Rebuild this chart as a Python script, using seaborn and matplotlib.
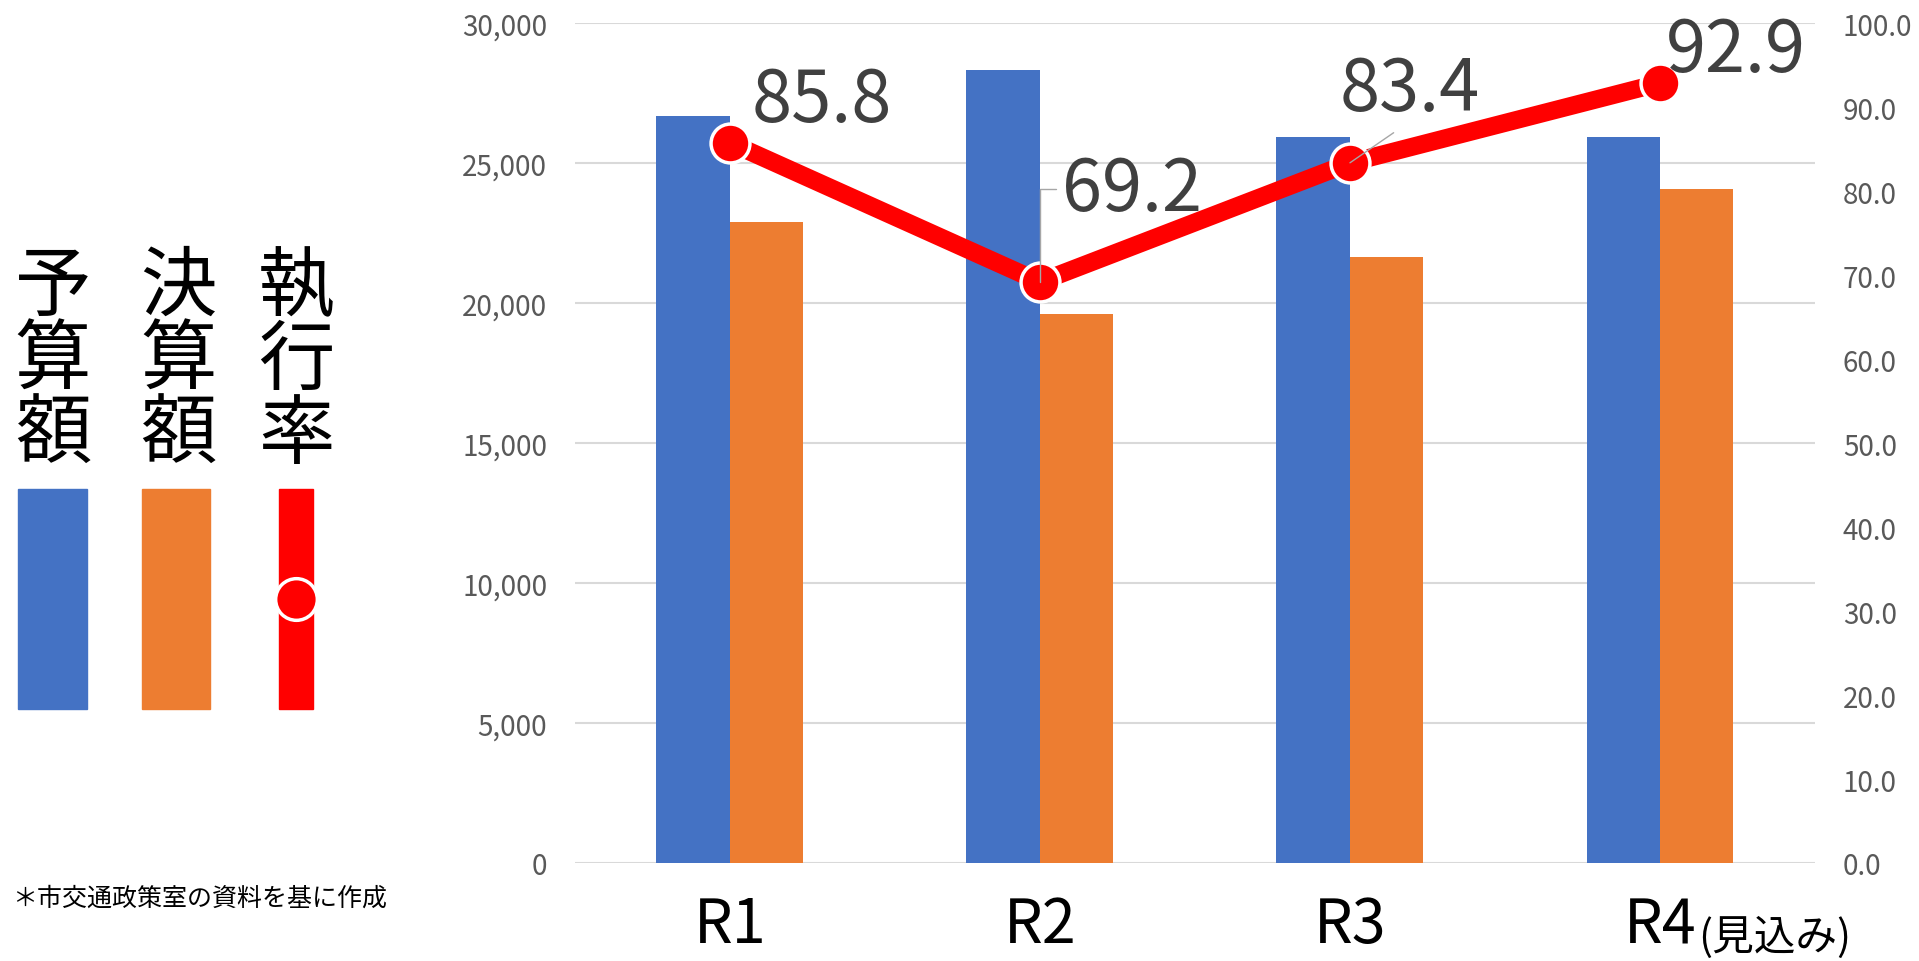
import seaborn as sns
import matplotlib.pyplot as plt
import pandas as pd
from matplotlib.patches import Rectangle
from matplotlib.lines import Line2D

# data
years = ["R1", "R2", "R3", "R4"]
budget = [26700, 28350, 25950, 25950]      # 予算額
settled = [22900, 19600, 21650, 24100]     # 決算額
rate = [85.8, 69.2, 83.4, 92.9]            # 執行率 (%)
series_names = ["予算額", "決算額"]

df = pd.DataFrame({
    "year": years * 2,
    "series": [series_names[0]] * 4 + [series_names[1]] * 4,
    "value": budget + settled,
})
df_rate = pd.DataFrame({"year": years, "rate": rate})

sns.set_theme(style="white")
plt.rcParams['font.family'] = ['Noto Sans CJK JP', 'DejaVu Sans']

blue = "#4472C4"
orange = "#ED7D31"
red = "#FF0000"
grey_txt = "#595959"

fig = plt.figure(figsize=(19.19, 9.62), dpi=100)
ax = fig.add_axes([0.2996, 0.1019, 0.6462, 0.8727])

sns.barplot(data=df, x="year", y="value", hue="series", order=years,
            palette=[blue, orange], width=0.474, gap=0, saturation=1,
            linewidth=0, legend=False, ax=ax)
ax.set_ylim(0, 30000)
ax.set_xlim(-0.5, 3.5)
ax.set_yticks(range(0, 30001, 5000))
ax.set_yticklabels([f"{v:,}" for v in range(0, 30001, 5000)])
ax.yaxis.grid(True, color="#d9d9d9", lw=1.5)
ax.set_axisbelow(True)
for s in ax.spines.values():
    s.set_visible(False)
ax.set_xlabel("")
ax.set_ylabel("")
ax.tick_params(axis="y", length=0, pad=20, labelsize=20, labelcolor=grey_txt)
ax.tick_params(axis="x", length=0, pad=22, labelsize=44, labelcolor="black")

ax.annotate("(見込み)", xy=(3, 0), xycoords=ax.get_xaxis_transform(),
            xytext=(38, -74), textcoords="offset pixels",
            ha="left", va="center", fontsize=30, color="black")

# execution rate on secondary axis
ax2 = ax.twinx()
sns.pointplot(data=df_rate, x="year", y="rate", order=years, color=red,
              errorbar=None, markers="o", markersize=28, linewidth=13,
              markeredgecolor="white", markeredgewidth=2.5, ax=ax2)
ax2.set_ylim(0, 100)
ax2.set_xlim(-0.5, 3.5)
ax2.set_yticks(range(0, 101, 10))
ax2.set_yticklabels([f"{v:.1f}" for v in range(0, 101, 10)])
ax2.set_ylabel("")
ax2.set_xlabel("")
ax2.grid(False)
for s in ax2.spines.values():
    s.set_visible(False)
ax2.tick_params(axis="y", length=0, pad=20, labelsize=20, labelcolor=grey_txt)

# data labels
label_offsets = [(22, 42), (22, 93), (60, 73), (6, 33)]
lead = [None,
        dict(arrowstyle="-", color="#a6a6a6", lw=1, shrinkA=2, shrinkB=0,
             relpos=(0, 0.5), connectionstyle="angle,angleA=0,angleB=90,rad=0"),
        dict(arrowstyle="-", color="#a6a6a6", lw=1, shrinkA=4, shrinkB=0,
             relpos=(0.45, 0)),
        None]
for i, (v, (dx, dy)) in enumerate(zip(rate, label_offsets)):
    ha = "center" if i == 2 else "left"
    ax2.annotate(f"{v:.1f}", xy=(i, v), xytext=(dx, dy),
                 textcoords="offset pixels", ha=ha, va="center",
                 fontsize=52, color="#404040", arrowprops=lead[i])

# custom legend on the left
leg_x = [0.0276, 0.0928, 0.1542]
leg_txt = ["予算額", "決算額", "執行率"]
char_y = [1 - 288 / 962, 1 - 362 / 962, 1 - 436 / 962]
for x, t in zip(leg_x, leg_txt):
    for ch, y in zip(t, char_y):
        fig.text(x, y, ch, ha="center", va="center", fontsize=55, color="black")

rect_bottom = 1 - 710 / 962
rect_h = 220 / 962
fig.add_artist(Rectangle((18 / 1919, rect_bottom), 69 / 1919, rect_h,
                         transform=fig.transFigure, color=blue))
fig.add_artist(Rectangle((142 / 1919, rect_bottom), 68 / 1919, rect_h,
                         transform=fig.transFigure, color=orange))
fig.add_artist(Rectangle((279 / 1919, rect_bottom), 34 / 1919, rect_h,
                         transform=fig.transFigure, color=red))
fig.add_artist(Line2D([296 / 1919], [1 - 600 / 962], transform=fig.transFigure,
                      marker="o", markersize=30, color=red,
                      markeredgecolor="white", markeredgewidth=2.5))

fig.text(12 / 1919, 1 - 899 / 962, "＊市交通政策室の資料を基に作成",
         ha="left", va="center", fontsize=18, color="black")

fig.savefig("out.png", dpi=100)
